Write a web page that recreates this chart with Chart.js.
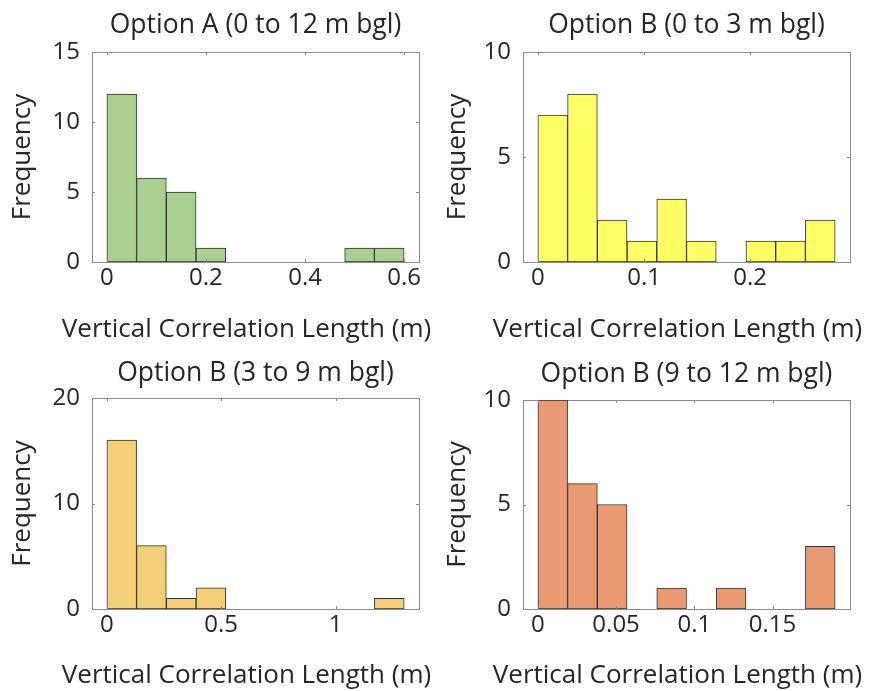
<!DOCTYPE html>
<html>
<head>
<meta charset="utf-8">
<title>Vertical correlation length histograms</title>
<script src="https://cdn.jsdelivr.net/npm/chart.js@4.4.1/dist/chart.umd.min.js"></script>
<style>
  html, body { margin: 0; padding: 0; background: #fff; }
  #wrap { position: relative; width: 870px; height: 691px; }
  canvas { position: absolute; }
</style>
</head>
<body>
<div id="wrap">
  <canvas id="histA" width="435" height="345" style="left:0;top:0"></canvas>
  <canvas id="histB" width="435" height="345" style="left:435px;top:0"></canvas>
  <canvas id="histC" width="435" height="346" style="left:0;top:345px"></canvas>
  <canvas id="histD" width="435" height="346" style="left:435px;top:345px"></canvas>
</div>
<script>
// histogram counts per bin (10 bins each, starting at 0)
const titleA = "Option A (0 to 12 m bgl)";
const countsA = [12, 6, 5, 1, 0, 0, 0, 0, 1, 1];
const binWidthA = 0.06;
const yTicksA = [0, 5, 10, 15];
const xTicksA = [0, 0.2, 0.4, 0.6];

const titleB = "Option B (0 to 3 m bgl)";
const countsB = [7, 8, 2, 1, 3, 1, 0, 1, 1, 2];
const binWidthB = 0.028;
const yTicksB = [0, 5, 10];
const xTicksB = [0, 0.1, 0.2];

const titleC = "Option B (3 to 9 m bgl)";
const countsC = [16, 6, 1, 2, 0, 0, 0, 0, 0, 1];
const binWidthC = 0.13;
const yTicksC = [0, 10, 20];
const xTicksC = [0, 0.5, 1];

const titleD = "Option B (9 to 12 m bgl)";
const countsD = [10, 6, 5, 0, 1, 0, 1, 0, 0, 3];
const binWidthD = 0.019;
const yTicksD = [0, 5, 10];
const xTicksD = [0, 0.05, 0.1, 0.15];

const xLabel = "Vertical Correlation Length (m)";
const yLabel = "Frequency";

const FONT = "'Open Sans', 'Noto Sans', sans-serif";
const TEXT = "#262626";
const AXIS = "#8a8a8a";

// matlab-style box around the plot area, with short inward ticks
const boxPlugin = {
  id: "box",
  beforeDatasetsDraw(chart) {
    const { ctx, chartArea: a } = chart;
    ctx.save();
    ctx.strokeStyle = AXIS;
    ctx.lineWidth = 1;
    ctx.strokeRect(Math.round(a.left) + 0.5, Math.round(a.top) + 0.5,
      Math.round(a.width), Math.round(a.height));
    ctx.restore();
  },
  afterDatasetsDraw(chart) {
    const { ctx, chartArea: a, scales } = chart;
    const len = 3;
    ctx.save();
    ctx.strokeStyle = AXIS;
    ctx.lineWidth = 1;
    ctx.beginPath();
    scales.x.ticks.forEach((t) => {
      const px = Math.round(scales.x.getPixelForValue(t.value)) + 0.5;
      ctx.moveTo(px, a.bottom); ctx.lineTo(px, a.bottom - len);
      ctx.moveTo(px, a.top); ctx.lineTo(px, a.top + len);
    });
    scales.y.ticks.forEach((t) => {
      const py = Math.round(scales.y.getPixelForValue(t.value)) + 0.5;
      ctx.moveTo(a.left, py); ctx.lineTo(a.left + len, py);
      ctx.moveTo(a.right, py); ctx.lineTo(a.right - len, py);
    });
    ctx.stroke();
    ctx.restore();
  },
  // x-axis label is wider than the plot, so draw it here instead of
  // through the scale title (which squeezes it to the axis width)
  afterDraw(chart) {
    const { ctx, chartArea: a } = chart;
    ctx.save();
    ctx.fillStyle = TEXT;
    ctx.font = "26px " + FONT;
    ctx.textAlign = "center";
    ctx.textBaseline = "middle";
    ctx.fillText(xLabel, (a.left + a.right) / 2 - 9, chart.height - 15);
    ctx.restore();
  },
};

function makeHist(id, title, counts, binWidth, xTicks, yTicks, color, box) {
  const points = counts.map((c, i) => ({ x: (i + 0.5) * binWidth, y: c }));
  new Chart(document.getElementById(id), {
    type: "bar",
    data: {
      datasets: [{
        data: points,
        backgroundColor: color,
        borderColor: "#333333",
        borderWidth: 1,
        borderSkipped: false,
        barPercentage: 1,
        categoryPercentage: 1,
        grouped: false,
      }],
    },
    options: {
      responsive: false,
      animation: false,
      events: [],
      layout: { padding: { top: 0, right: box.right, bottom: 0, left: 0 } },
      plugins: {
        legend: { display: false },
        tooltip: { enabled: false },
        title: {
          display: true,
          text: title,
          fullSize: false,
          color: TEXT,
          font: { family: FONT, size: 26.5, weight: "normal", lineHeight: 1.2 },
          padding: { top: box.top - 31.8 - box.tb, bottom: box.tb },
        },
      },
      scales: {
        x: {
          type: "linear",
          offset: false,
          min: -binWidth / 2,
          max: binWidth * 10.5,
          afterBuildTicks: (s) => { s.ticks = xTicks.map((v) => ({ value: v })); },
          afterFit: (s) => { s.height = box.xh; },
          grid: { display: false, drawTicks: false },
          border: { display: false },
          ticks: {
            color: TEXT,
            padding: 2,
            maxRotation: 0,
            font: { family: FONT, size: 24 },
            callback: (v) => String(v),
          },
          title: { display: false },
        },
        y: {
          min: 0,
          max: yTicks[yTicks.length - 1],
          afterBuildTicks: (s) => { s.ticks = yTicks.map((v) => ({ value: v })); },
          afterFit: (s) => { s.width = box.left; },
          grid: { display: false, drawTicks: false },
          border: { display: false },
          ticks: {
            color: TEXT,
            padding: 12,
            font: { family: FONT, size: 24 },
          },
          title: {
            display: true,
            text: yLabel,
            color: TEXT,
            font: { family: FONT, size: 26 },
            padding: { top: 7, bottom: 0 },
          },
        },
      },
    },
    plugins: [boxPlugin],
  });
}

makeHist("histA", titleA, countsA, binWidthA, xTicksA, yTicksA, "#a9d08e",
  { left: 92, right: 16, top: 52, xh: 83, tb: 11 });
makeHist("histB", titleB, countsB, binWidthB, xTicksB, yTicksB, "#ffff66",
  { left: 88, right: 20, top: 52, xh: 83, tb: 11 });
makeHist("histC", titleC, countsC, binWidthC, xTicksC, yTicksC, "#f3cf78",
  { left: 92, right: 16, top: 53, xh: 82, tb: 9 });
makeHist("histD", titleD, countsD, binWidthD, xTicksD, yTicksD, "#e99a72",
  { left: 88, right: 20, top: 55, xh: 82, tb: 10 });
</script>
</body>
</html>
